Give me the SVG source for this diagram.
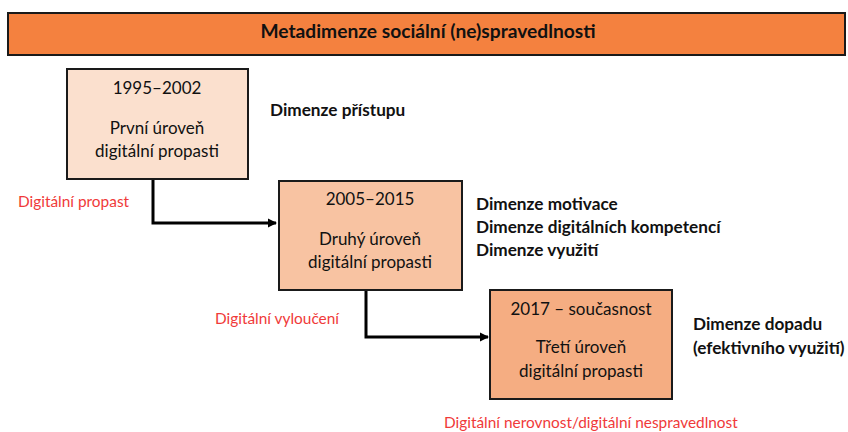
<svg xmlns="http://www.w3.org/2000/svg" width="848" height="432" viewBox="0 0 848 432">
<defs>
<style>
text{font-family:Lato,"Open Sans","Liberation Sans",sans-serif;}
.box{stroke:#1a1a1a;stroke-width:2;}
.t{font-size:17px;fill:#111;text-anchor:middle;}
.b{font-size:17.2px;font-weight:bold;fill:#111;}
.r{font-size:15.4px;fill:#f03a3a;}
.c{fill:none;stroke:#000;stroke-width:3;}
</style>
<marker id="ah" markerWidth="10" markerHeight="10" refX="8" refY="5" orient="auto" markerUnits="userSpaceOnUse">
<path d="M0,0.5 L9,5 L0,9.5 Z" fill="#000"/>
</marker>
</defs>
<rect width="848" height="432" fill="#fff"/>
<g id="title">
<rect class="box" x="8" y="13" width="837" height="42" fill="#f4813f"/>
<text x="428" y="37.5" text-anchor="middle" style="font-size:19.2px;font-weight:bold;fill:#111">Metadimenze sociální (ne)spravedlnosti</text>
</g>
<g id="connectors">
<path class="c" d="M153,179 V223 H276" marker-end="url(#ah)"/>
<path class="c" d="M366,290 V337 H488" marker-end="url(#ah)"/>
</g>
<g id="level1">
<rect class="box" x="67" y="69" width="181" height="110" fill="#fbe0ce"/>
<text class="t" x="157" y="94">1995–2002</text>
<text class="t" x="157" y="134">První úroveň</text>
<text class="t" x="157" y="157">digitální propasti</text>
</g>
<g id="level2">
<rect class="box" x="279" y="181" width="183" height="109" fill="#f8c3a2"/>
<text class="t" x="370" y="205">2005–2015</text>
<text class="t" x="370" y="245">Druhý úroveň</text>
<text class="t" x="370" y="268">digitální propasti</text>
</g>
<g id="level3">
<rect class="box" x="490" y="290" width="182" height="109" fill="#f5ad82"/>
<text class="t" x="581" y="315">2017 – současnost</text>
<text class="t" x="581" y="353">Třetí úroveň</text>
<text class="t" x="581" y="377">digitální propasti</text>
</g>
<g id="dim1"><text class="b" x="270" y="116">Dimenze přístupu</text></g>
<g id="dim2">
<text class="b" x="476" y="210">Dimenze motivace</text>
<text class="b" x="476" y="233">Dimenze digitálních kompetencí</text>
<text class="b" x="476" y="256">Dimenze využití</text>
</g>
<g id="dim3">
<text class="b" x="693" y="330">Dimenze dopadu</text>
<text class="b" x="693" y="354">(efektivního využití)</text>
</g>
<g id="labels">
<text class="r" x="18" y="207">Digitální propast</text>
<text class="r" x="215" y="324">Digitální vyloučení</text>
<text class="r" x="444" y="428">Digitální nerovnost/digitální nespravedlnost</text>
</g>
</svg>
